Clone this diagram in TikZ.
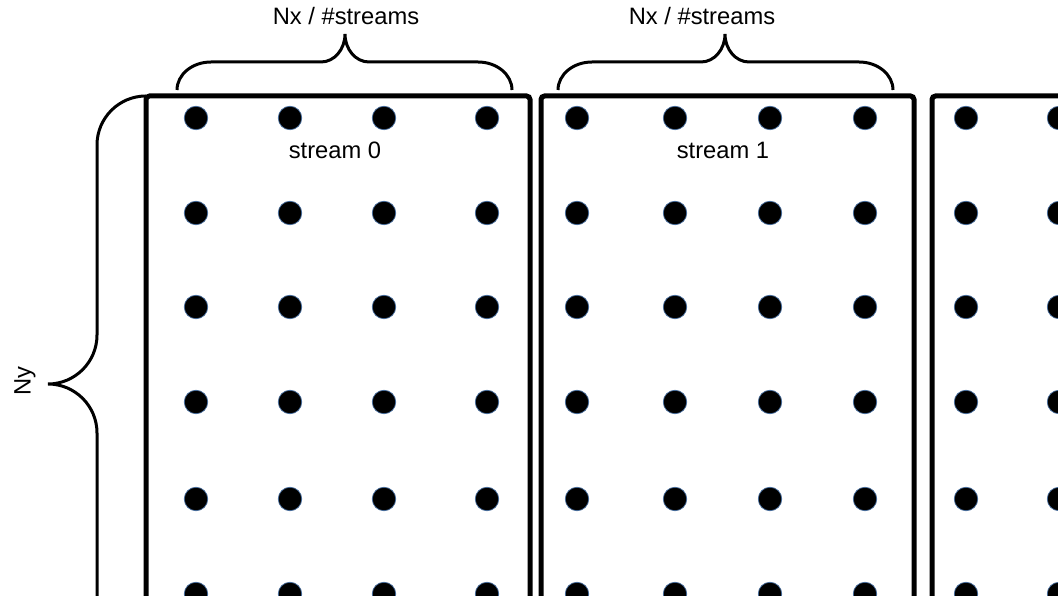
\documentclass[tikz,border=0pt]{standalone}
\usepackage{fontspec}
\setmainfont{Liberation Sans}
\usepackage{xcolor}
\definecolor{dotedge}{RGB}{70,110,160}

\begin{document}
\begin{tikzpicture}[
    x=0.02cm, y=0.02cm,
    block/.style={line width=0.1cm, rounded corners=2pt},
    brace/.style={line width=0.06cm},
    dot/.style={circle, fill=black, draw=dotedge, line width=0.4pt, minimum size=0.47cm, inner sep=0pt},
    lbl/.style={font=\fontsize{13.5}{16}\selectfont, inner sep=0pt}
]
\useasboundingbox (0,0) rectangle (1058,595);
\clip (0,0) rectangle (1058,595);

% stream blocks
\draw[block] (146,-20) |- (530,499) -- (530,-20);
\draw[block] (541,-20) |- (914,499) -- (914,-20);
\draw[block] (932,-20) |- (1100,499);

% grid points
\foreach \x in {196,290,384,487,577,675,770,865,966,1059}
  \foreach \y in {477,382,288,193,96,1}
    \node[dot] (p-\x-\y) at (\x,\y) {};

\node[lbl] (s0) at (335,445) {stream 0};
\node[lbl] (s1) at (723,445) {stream 1};

% braces
\foreach \l/\m/\r in {177/345/512, 558/725/893}
  \draw[brace] (\l,505) arc[start angle=180, end angle=90, x radius=34, y radius=28]
    -- ({\m-24},533) arc[start angle=270, end angle=360, x radius=24, y radius=28]
    arc[start angle=180, end angle=270, x radius=24, y radius=28]
    -- ({\r-34},533) arc[start angle=90, end angle=0, x radius=34, y radius=28];
\draw[brace] (146,499) arc[start angle=90, end angle=180, radius=49]
  -- (97,260) arc[start angle=0, end angle=-90, radius=49]
  arc[start angle=90, end angle=0, radius=49] -- (97,-20);

\node[lbl] (nx0) at (346,579) {Nx / \#streams};
\node[lbl] (nx1) at (702,579) {Nx / \#streams};
\node[lbl, rotate=90] (ny) at (25,214) {Ny};
\end{tikzpicture}
\end{document}
